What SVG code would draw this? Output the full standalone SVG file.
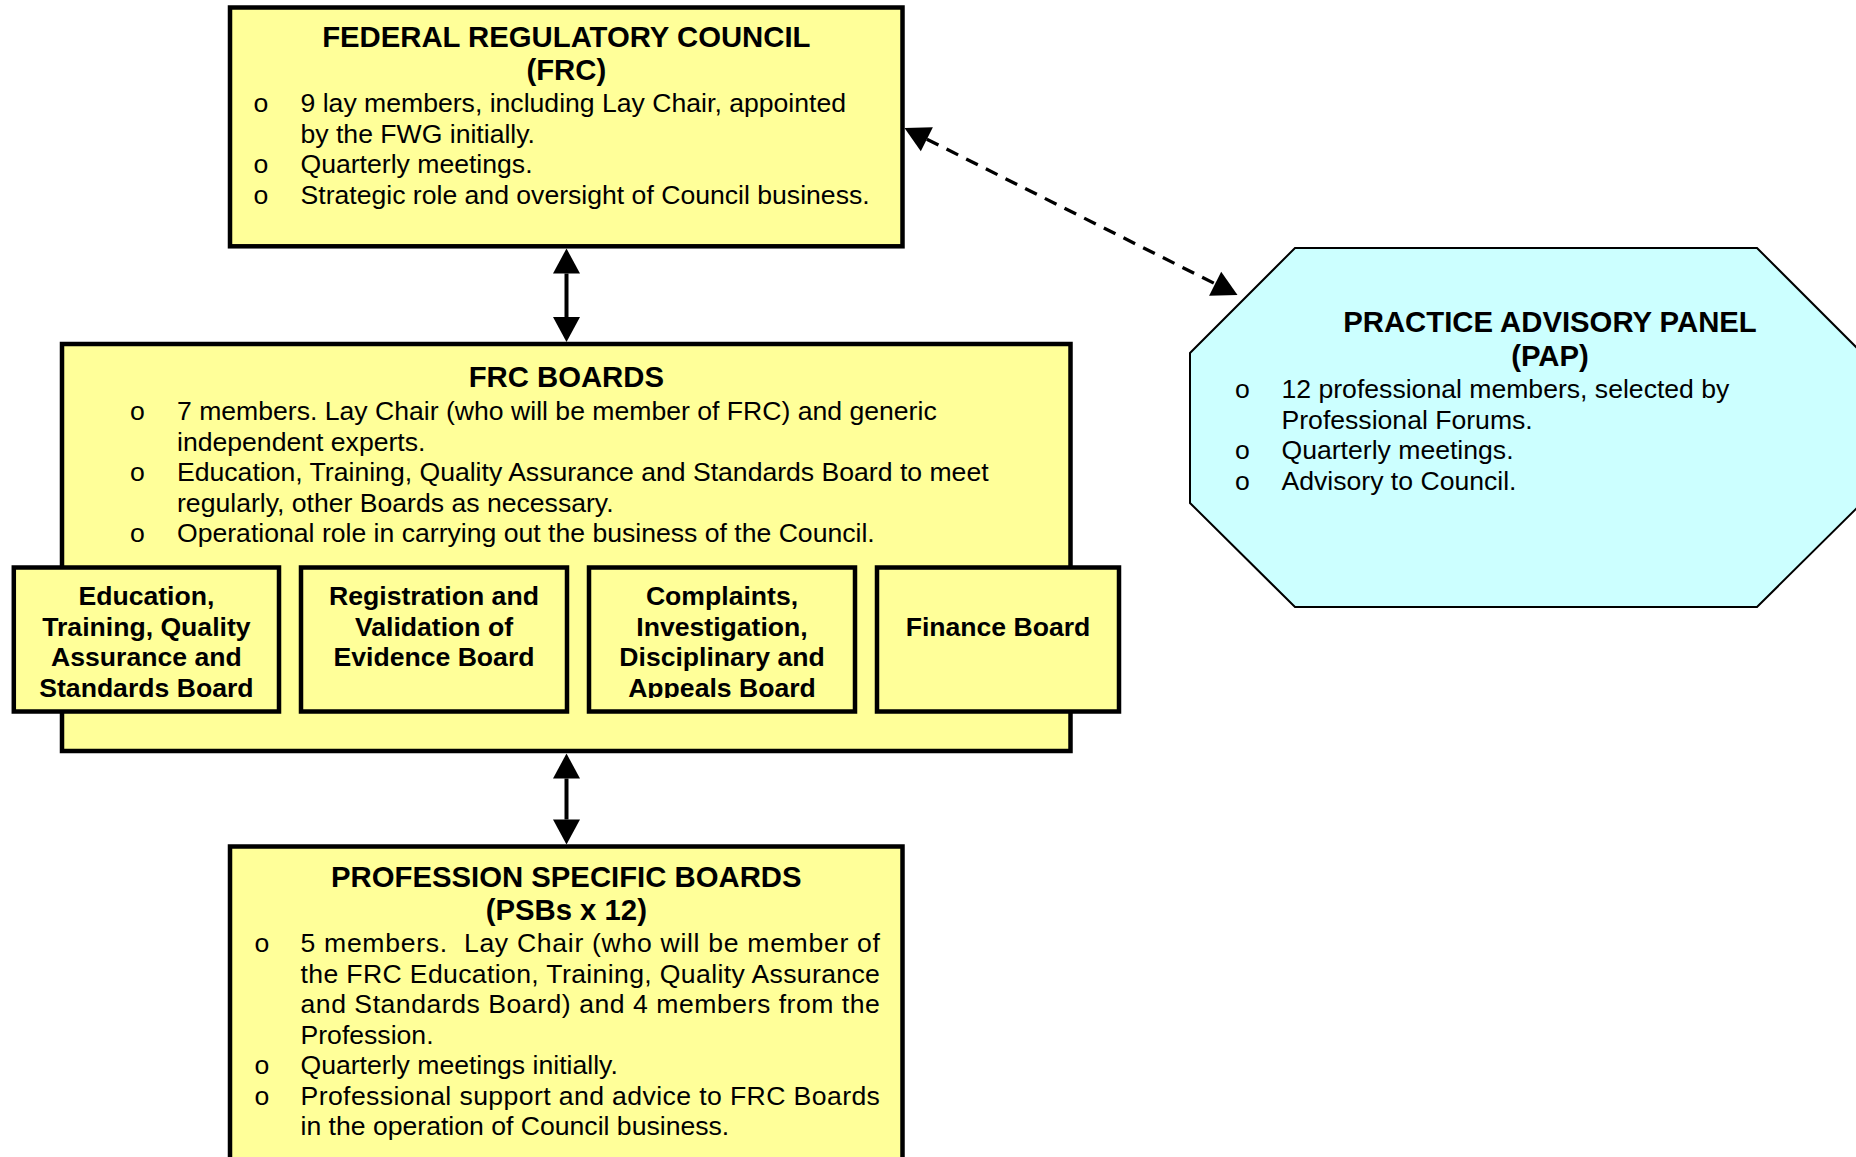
<svg xmlns="http://www.w3.org/2000/svg" width="1856" height="1157" viewBox="0 0 1856 1157">
<style>
text{font-family:"Liberation Sans",Arial,sans-serif;fill:#000}
.box{fill:#FFFF99;stroke:#000;stroke-width:4.5}
.pap{fill:#CCFFFF;stroke:#000;stroke-width:2}
.t{font-size:29.3px;font-weight:bold;text-anchor:middle}
.b{font-size:26.6px}
.s{font-size:26.6px;font-weight:bold;text-anchor:middle}
.ln{stroke:#000;stroke-width:4;fill:none}
.dl{stroke:#000;stroke-width:3.3;fill:none;stroke-dasharray:13 9}
</style>
<defs>
<marker id="ah" markerUnits="userSpaceOnUse" markerWidth="30" markerHeight="30" viewBox="0 -15 30 30" refX="0" refY="0" orient="auto-start-reverse" overflow="visible">
<path d="M0,-13.5 L25,0 L0,13.5 Z" fill="#000"/>
</marker>
<clipPath id="clip3"><rect x="589" y="567" width="266" height="131"/></clipPath>
</defs>

<g id="frc">
<rect class="box" x="230" y="7.5" width="672.5" height="238.8"/>
<text class="t" x="566.3" y="47">FEDERAL REGULATORY COUNCIL</text>
<text class="t" x="566.3" y="80">(FRC)</text>
<g class="b">
<text class="b" x="253.5" y="112">o</text><text class="b" x="300.5" y="112">9 lay members, including Lay Chair, appointed</text>
<text class="b" x="300.5" y="142.5">by the FWG initially.</text>
<text class="b" x="253.5" y="173">o</text><text class="b" x="300.5" y="173">Quarterly meetings.</text>
<text class="b" x="253.5" y="203.5">o</text><text class="b" x="300.5" y="203.5">Strategic role and oversight of Council business.</text>
</g>
</g>

<g id="frc-boards">
<rect class="box" x="62" y="344" width="1008.5" height="407"/>
<text class="t" x="566.3" y="387">FRC BOARDS</text>
<text class="b" x="130" y="420">o</text><text class="b" x="177" y="420">7 members. Lay Chair (who will be member of FRC) and generic</text>
<text class="b" x="177" y="450.5">independent experts.</text>
<text class="b" x="130" y="481">o</text><text class="b" x="177" y="481">Education, Training, Quality Assurance and Standards Board to meet</text>
<text class="b" x="177" y="511.5">regularly, other Boards as necessary.</text>
<text class="b" x="130" y="542">o</text><text class="b" x="177" y="542">Operational role in carrying out the business of the Council.</text>
</g>

<g id="board-etqas">
<rect class="box" x="13.8" y="567.5" width="265.2" height="144"/>
<text class="s" x="146.4" y="605">Education,</text>
<text class="s" x="146.4" y="635.5">Training, Quality</text>
<text class="s" x="146.4" y="666">Assurance and</text>
<text class="s" x="146.4" y="696.5">Standards Board</text>
</g>

<g id="board-rve">
<rect class="box" x="301" y="567.5" width="266" height="144"/>
<text class="s" x="434" y="605">Registration and</text>
<text class="s" x="434" y="635.5">Validation of</text>
<text class="s" x="434" y="666">Evidence Board</text>
</g>

<g id="board-cida">
<rect class="box" x="589" y="567.5" width="266" height="144"/>
<g clip-path="url(#clip3)">
<text class="s" x="722" y="605">Complaints,</text>
<text class="s" x="722" y="635.5">Investigation,</text>
<text class="s" x="722" y="666">Disciplinary and</text>
<text class="s" x="722" y="696.5">Appeals Board</text>
</g>
</g>

<g id="board-finance">
<rect class="box" x="877" y="567.5" width="242" height="144"/>
<text class="s" x="998" y="635.5">Finance Board</text>
</g>

<g id="psb">
<rect class="box" x="230" y="846.5" width="672.5" height="330"/>
<text class="t" x="566.3" y="887">PROFESSION SPECIFIC BOARDS</text>
<text class="t" x="566.3" y="920">(PSBs x 12)</text>
<text class="b" x="254.5" y="952">o</text><text class="b" x="300.5" y="952" xml:space="preserve" textLength="579.4" lengthAdjust="spacing">5 members.  Lay Chair (who will be member of</text>
<text class="b" x="300.5" y="982.5" textLength="579.4" lengthAdjust="spacing">the FRC Education, Training, Quality Assurance</text>
<text class="b" x="300.5" y="1013" textLength="579.4" lengthAdjust="spacing">and Standards Board) and 4 members from the</text>
<text class="b" x="300.5" y="1043.5">Profession.</text>
<text class="b" x="254.5" y="1074">o</text><text class="b" x="300.5" y="1074">Quarterly meetings initially.</text>
<text class="b" x="254.5" y="1104.5">o</text><text class="b" x="300.5" y="1104.5" textLength="579.4" lengthAdjust="spacing">Professional support and advice to FRC Boards</text>
<text class="b" x="300.5" y="1135">in the operation of Council business.</text>
</g>

<g id="pap">
<polygon class="pap" points="1190,353 1295,248 1757,248 1862,353 1862,503 1757,607 1295,607 1190,503"/>
<text class="t" x="1550" y="332">PRACTICE ADVISORY PANEL</text>
<text class="t" x="1550" y="365.5">(PAP)</text>
<text class="b" x="1235" y="398">o</text><text class="b" x="1281.5" y="398">12 professional members, selected by</text>
<text class="b" x="1281.5" y="428.5">Professional Forums.</text>
<text class="b" x="1235" y="459">o</text><text class="b" x="1281.5" y="459">Quarterly meetings.</text>
<text class="b" x="1235" y="489.5">o</text><text class="b" x="1281.5" y="489.5">Advisory to Council.</text>
</g>

<g id="connectors">
<path class="ln" d="M566.5,273.5 L566.5,317" marker-start="url(#ah)" marker-end="url(#ah)"/>
<path class="ln" d="M566.5,778.5 L566.5,819.5" marker-start="url(#ah)" marker-end="url(#ah)"/>
<path class="dl" d="M926.85,139.2 L1215.15,283.8" marker-start="url(#ah)" marker-end="url(#ah)"/>
</g>
</svg>
